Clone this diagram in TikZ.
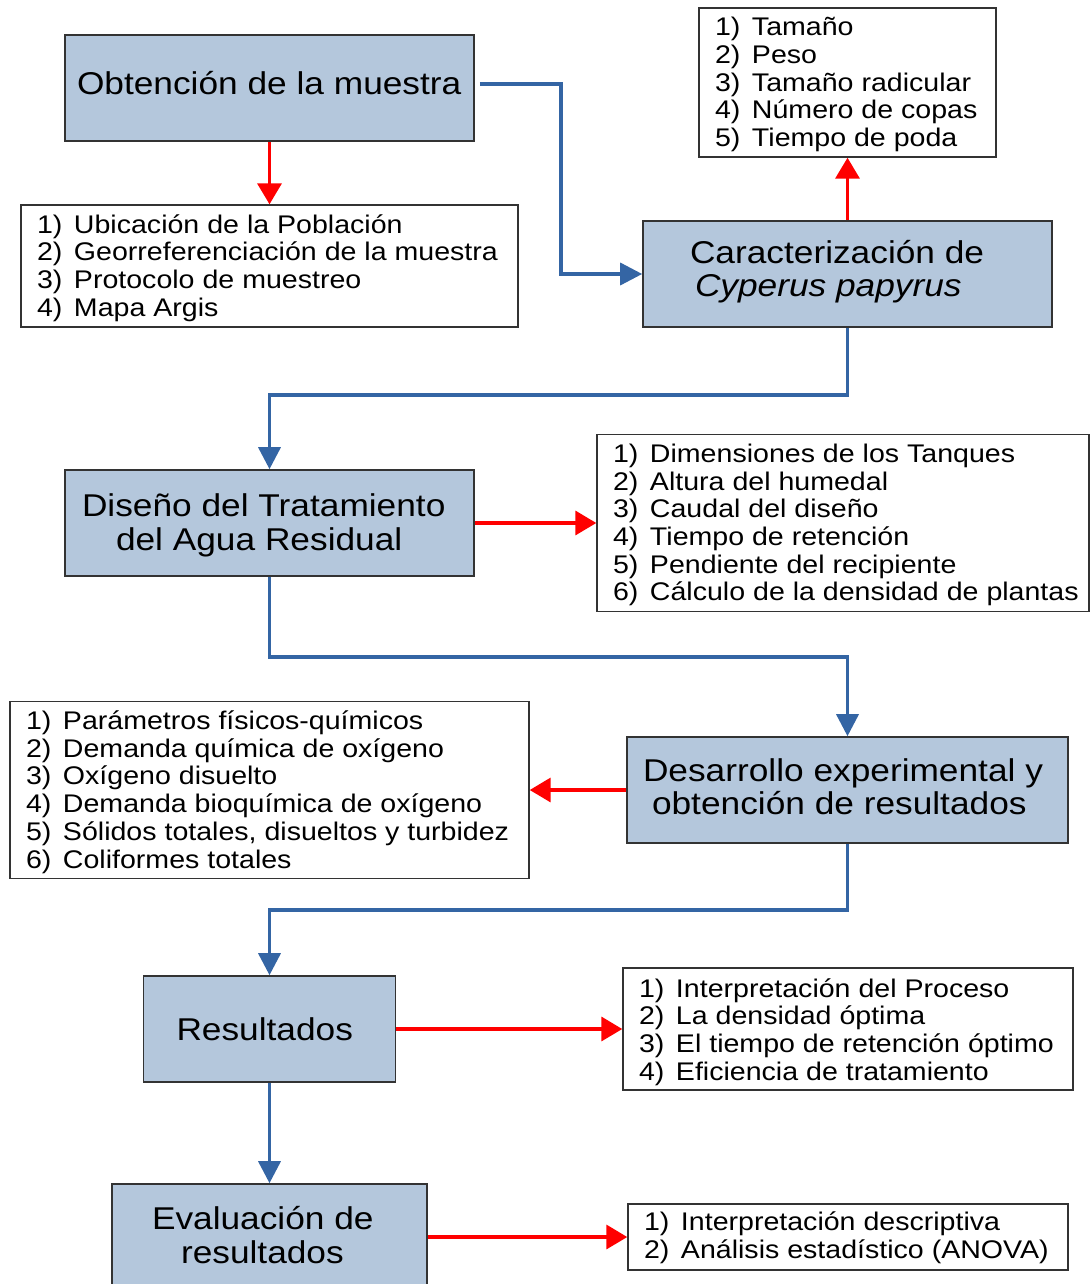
\documentclass[tikz,border=0pt]{standalone}
\usepackage{fontspec}
\setmainfont{Liberation Sans}[FakeStretch=1.12]
\usetikzlibrary{arrows.meta}
\definecolor{boxblue}{HTML}{B4C7DC}
\definecolor{flowblue}{HTML}{3465A4}
\definecolor{flowred}{HTML}{FF0000}
\definecolor{edgegray}{HTML}{333333}
\newcommand{\ListNum}[1]{\hspace*{16pt}\makebox[37pt][l]{#1)}}
\newcommand{\Ind}[1]{\hspace*{#1pt}}
% move content up / down by half of the given amount inside a centred node
\newcommand{\MoveUp}[2]{\raisebox{0pt}[\height][\dimexpr\depth+#1pt\relax]{#2}}
\newcommand{\MoveDown}[2]{\raisebox{0pt}[\dimexpr\height+#1pt\relax][\depth]{#2}}
\begin{document}
\begin{tikzpicture}[x=1pt,y=-1pt,
  mainbox/.style={draw=edgegray, fill=boxblue, line width=1.6pt, minimum height=106pt,
    inner sep=0pt, font=\fontsize{31.5}{33.5}\selectfont},
  listbox/.style={draw=edgegray, fill=white, line width=1.4pt, inner sep=0pt,
    font=\fontsize{25.5}{27.7}\selectfont},
  bluearrow/.style={draw=flowblue, line width=3.5pt, -{Triangle[length=22pt,width=22pt]}},
  redarrow/.style={draw=flowred, line width=3.5pt, -{Triangle[length=21pt,width=24pt]}}]
\useasboundingbox (0,0) rectangle (1091,1284);
\clip (0,0) rectangle (1091,1284);
\fill[white] (0,0) rectangle (1091,1284);

% main boxes
\node[mainbox, minimum width=409pt] (A) at (269.5,88)
  {\MoveUp{10}{\parbox{409pt}{\Ind{12}Obtención de la muestra}}};
\node[mainbox, minimum width=409pt] (C) at (847.5,274)
  {\MoveUp{5}{\parbox{409pt}{\Ind{47}Caracterización de\\\Ind{52}\textit{Cyperus papyrus}}}};
\node[mainbox, minimum width=409pt] (D) at (269.5,523)
  {\MoveDown{5}{\parbox{409pt}{\Ind{17}Diseño del Tratamiento\\\Ind{51}del Agua Residual}}};
\node[mainbox, minimum width=441pt] (E) at (847.5,790)
  {\MoveUp{7}{\parbox{441pt}{\Ind{16}Desarrollo experimental y\\\Ind{25}obtención de resultados}}};
\node[mainbox, minimum width=252pt] (F) at (269.5,1029)
  {\parbox{252pt}{\Ind{33}Resultados}};
\node[mainbox, minimum width=315pt] (G) at (269.5,1237)
  {\MoveUp{4}{\parbox{315pt}{\Ind{40}Evaluación de\\\Ind{69}resultados}}};

% list boxes
\node[listbox, minimum width=497pt, minimum height=122pt] (L1) at (269.5,266) {%
\MoveDown{4}{\parbox{497pt}{%
\ListNum{1}Ubicación de la Población\\
\ListNum{2}Georreferenciación de la muestra\\
\ListNum{3}Protocolo de muestreo\\
\ListNum{4}Mapa Argis}}};
\node[listbox, minimum width=297pt, minimum height=149pt] (L2) at (847.5,82.5) {%
\MoveDown{4}{\parbox{297pt}{%
\ListNum{1}Tamaño\\
\ListNum{2}Peso\\
\ListNum{3}Tamaño radicular\\
\ListNum{4}Número de copas\\
\ListNum{5}Tiempo de poda}}};
\node[listbox, minimum width=492pt, minimum height=177pt] (L3) at (843,523) {%
\MoveDown{4}{\parbox{492pt}{%
\ListNum{1}Dimensiones de los Tanques\\
\ListNum{2}Altura del humedal\\
\ListNum{3}Caudal del diseño\\
\ListNum{4}Tiempo de retención\\
\ListNum{5}Pendiente del recipiente\\
\ListNum{6}Cálculo de la densidad de plantas}}};
\node[listbox, minimum width=519pt, minimum height=177pt] (L4) at (269.5,790) {%
\MoveDown{4}{\parbox{519pt}{%
\ListNum{1}Parámetros físicos-químicos\\
\ListNum{2}Demanda química de oxígeno\\
\ListNum{3}Oxígeno disuelto\\
\ListNum{4}Demanda bioquímica de oxígeno\\
\ListNum{5}Sólidos totales, disueltos y turbidez\\
\ListNum{6}Coliformes totales}}};
\node[listbox, minimum width=450pt, minimum height=122pt] (L5) at (848,1029) {%
\MoveDown{6}{\parbox{450pt}{%
\ListNum{1}Interpretación del Proceso\\
\ListNum{2}La densidad óptima\\
\ListNum{3}El tiempo de retención óptimo\\
\ListNum{4}Eficiencia de tratamiento}}};
\node[listbox, minimum width=440pt, minimum height=66pt] (L6) at (848,1237) {%
\MoveDown{2}{\parbox{440pt}{%
\ListNum{1}Interpretación descriptiva\\
\ListNum{2}Análisis estadístico (ANOVA)}}};

% blue flow
\draw[bluearrow] ([xshift=5pt]A.east |- 0,84) -- (561,84) |- (C.west);
\draw[bluearrow] (C.south) -- (847.5,395) -| (D.north);
\draw[bluearrow] (D.south) -- (269.5,657) -| (E.north);
\draw[bluearrow] (E.south) -- (847.5,910) -| (F.north);
\draw[bluearrow] (F.south) -- (G.north);

% red arrows
\draw[redarrow] (A.south) -- (L1.north);
\draw[redarrow] (C.north) -- (L2.south);
\draw[redarrow] (D.east) -- (L3.west);
\draw[redarrow] (E.west) -- (L4.east);
\draw[redarrow] (F.east) -- (L5.west);
\draw[redarrow] (G.east) -- (L6.west);
\end{tikzpicture}
\end{document}
